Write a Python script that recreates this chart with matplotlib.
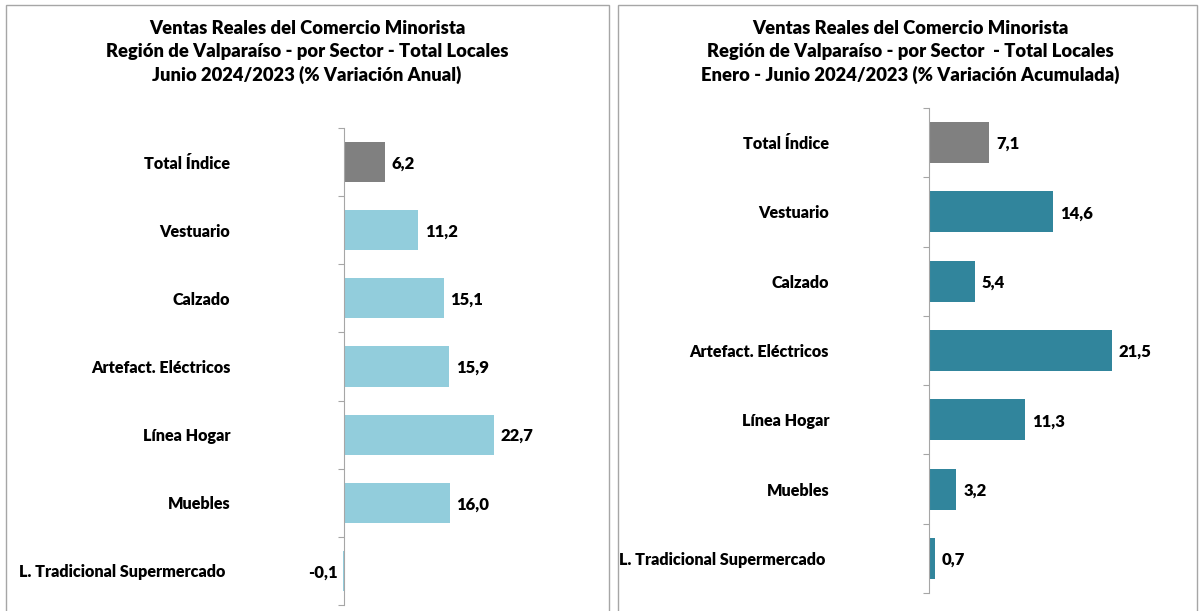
import matplotlib.pyplot as plt
from matplotlib.patches import Rectangle

categories = ['Total Índice', 'Vestuario', 'Calzado', 'Artefact. Eléctricos',
              'Línea Hogar', 'Muebles', 'L. Tradicional Supermercado']
anual = [6.2, 11.2, 15.1, 15.9, 22.7, 16.0, -0.1]
acumulada = [7.1, 14.6, 5.4, 21.5, 11.3, 3.2, 0.7]

title_left = ('Ventas Reales del Comercio Minorista\n'
              'Región de Valparaíso - por Sector - Total Locales\n'
              'Junio 2024/2023 (% Variación Anual)')
title_right = ('Ventas Reales del Comercio Minorista\n'
               'Región de Valparaíso - por Sector  - Total Locales\n'
               'Enero - Junio 2024/2023 (% Variación Acumulada)')

plt.rcParams['font.family'] = ['Lato', 'DejaVu Sans']
plt.rcParams['font.weight'] = 'heavy'

W, H = 1199, 611
fig = plt.figure(figsize=(W / 100, H / 100), dpi=100)


def px(x0, y0, x1, y1):
    # pixel box (top-left origin) -> figure fraction rect
    return [x0 / W, 1 - y1 / H, (x1 - x0) / W, (y1 - y0) / H]


# panel borders
for x0, x1 in [(6, 609), (618, 1197)]:
    fig.patches.append(Rectangle((x0 / W, -0.05), (x1 - x0) / W, 1.05 - 5 / H,
                                 transform=fig.transFigure, fill=False,
                                 edgecolor='#A6A6A6', linewidth=1))


def panel(rect, values, colors, xmax, pad, title, title_x, shift):
    ax = fig.add_axes(rect)
    n = len(values)
    pos = list(range(n))
    ax.barh(pos, values, height=0.59, color=colors, clip_on=False)
    ax.set_ylim(n - 0.5, -0.5)
    ax.set_xlim(0, xmax)
    for s in ['top', 'right', 'bottom']:
        ax.spines[s].set_visible(False)
    ax.spines['left'].set_color('#A6A6A6')
    ax.set_xticks([])
    ax.set_yticks([i - 0.5 for i in range(n + 1)])
    ax.set_yticklabels([])
    ax.tick_params(axis='y', which='major', length=4, color='#A6A6A6')
    ax.set_yticks(pos, minor=True)
    # the long last label sits a bit further left, so it is drawn apart
    ax.set_yticklabels(categories[:-1] + [''], minor=True, fontsize=11.6,
                       fontweight='heavy')
    ax.tick_params(axis='y', which='minor', length=0, pad=pad)
    ax.annotate(categories[-1], (0, pos[-1]), xycoords=('axes fraction', 'data'),
                xytext=(-pad - shift, 0), textcoords='offset points',
                ha='right', va='center_baseline', fontsize=11.6,
                fontweight='heavy')
    off = xmax * 0.03
    for p, v in zip(pos, values):
        lab = f'{v:.1f}'.replace('.', ',')
        if v >= 0:
            ax.text(v + off * 0.9, p, lab, va='center_baseline', ha='left',
                    fontsize=12, fontweight='heavy')
        else:
            ax.text(v - off * 0.7, p, lab, va='center_baseline', ha='right',
                    fontsize=12, fontweight='heavy')
    fig.text(title_x / W, 1 - 52 / H, title, ha='center', va='center',
             fontsize=13.2, fontweight='heavy', linespacing=1.42)
    return ax


panel(px(344, 128, 600, 605), anual,
      ['#808080'] + ['#92CDDC'] * 6, 256 / 6.6, 82, title_left, 307, 3.6)
panel(px(929, 108, 1190, 593), acumulada,
      ['#808080'] + ['#31859C'] * 6, 261 / 8.5, 72, title_right, 910, 2.5)

fig.savefig('out.png', dpi=100)
